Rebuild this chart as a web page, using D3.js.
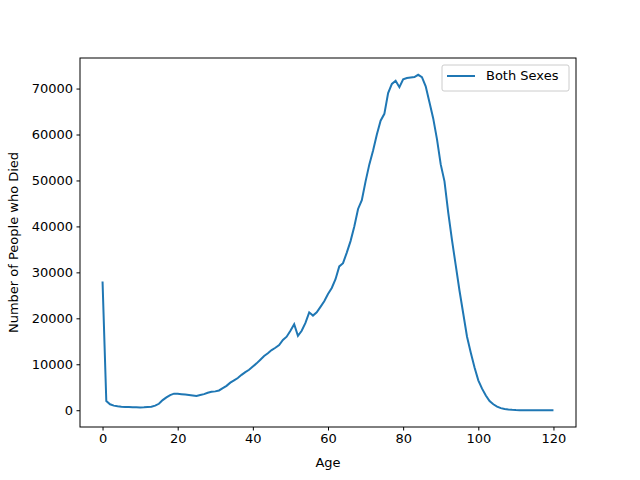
<!DOCTYPE html>
<html><head><meta charset="utf-8">
<script src="https://cdn.jsdelivr.net/npm/d3@7"></script>
<style>body{margin:0;background:#fff}text{font-family:"DejaVu Sans",sans-serif}</style>
</head><body><svg id="chart" width="640" height="480"></svg>
<script>
const ages = d3.range(0, 121);
const deaths = [28000,2000,1300,1000,850,750,700,680,650,650,620,650,700,750,1000,1400,2200,2800,3300,3600,
3600,3500,3400,3300,3200,3100,3300,3500,3800,4000,4100,4300,4800,5300,6000,6500,7000,7700,8300,8800,
9500,10200,11000,11800,12400,13100,13600,14200,15300,16000,17300,18700,16200,17300,19000,21300,20600,21300,22500,23700,
25300,26600,28500,31300,32000,34300,36800,40000,43800,45700,49800,53500,56500,60000,63000,64500,69000,71000,71700,70300,
72000,72300,72400,72500,73000,72500,70500,67000,63500,59000,53500,49800,43000,37000,31500,26000,21000,16000,12500,9300,
6500,4700,3200,2000,1300,800,450,250,150,80,40,20,10,5,3,2,1,1,0,0,0];
const xTicks = [0,20,40,60,80,100,120];
const yTicks = [0,10000,20000,30000,40000,50000,60000,70000];

const svg = d3.select('#chart');
const m = {l:80, r:576, t:58, b:427};
const x = d3.scaleLinear().domain([-6, 126]).range([m.l, m.r]);
const y = d3.scaleLinear().domain([-3650, 76650]).range([m.b, m.t]);

const xAxis = svg.append('g').attr('transform', `translate(0,${m.b})`)
  .call(d3.axisBottom(x).tickValues(xTicks).tickSizeOuter(0).tickSize(3.5).tickPadding(3.5));
const yAxis = svg.append('g').attr('transform', `translate(${m.l},0)`)
  .call(d3.axisLeft(y).tickValues(yTicks).tickFormat(d3.format('d')).tickSizeOuter(0).tickSize(3.5).tickPadding(3.5));
[xAxis, yAxis].forEach(a => {
  a.select('.domain').remove();
  a.selectAll('text').attr('font-size', 13).attr('fill', '#000').style('font-family', 'DejaVu Sans');
  a.selectAll('line').attr('stroke', '#000');
});

svg.append('path').datum(ages)
  .attr('fill', 'none').attr('stroke', '#1f77b4').attr('stroke-width', 2)
  .attr('d', d3.line().x(d => x(d)).y((d, i) => y(deaths[i])));

svg.append('rect').attr('x', m.l).attr('y', m.t).attr('width', m.r - m.l).attr('height', m.b - m.t)
  .attr('fill', 'none').attr('stroke', '#000').attr('stroke-width', 1);

svg.append('text').attr('x', (m.l + m.r) / 2).attr('y', 467).attr('text-anchor', 'middle')
  .attr('font-size', 13).text('Age');
svg.append('text').attr('transform', `translate(18,${(m.t + m.b) / 2}) rotate(-90)`)
  .attr('text-anchor', 'middle').attr('font-size', 13).text('Number of People who Died');

const lg = svg.append('g');
lg.append('rect').attr('x', 442).attr('y', 65).attr('width', 127).attr('height', 26).attr('rx', 2)
  .attr('fill', '#fff').attr('stroke', '#ccc');
lg.append('line').attr('x1', 447).attr('x2', 475).attr('y1', 76).attr('y2', 76)
  .attr('stroke', '#1f77b4').attr('stroke-width', 2);
lg.append('text').attr('x', 486).attr('y', 80).attr('font-size', 13).text('Both Sexes');
</script></body></html>
